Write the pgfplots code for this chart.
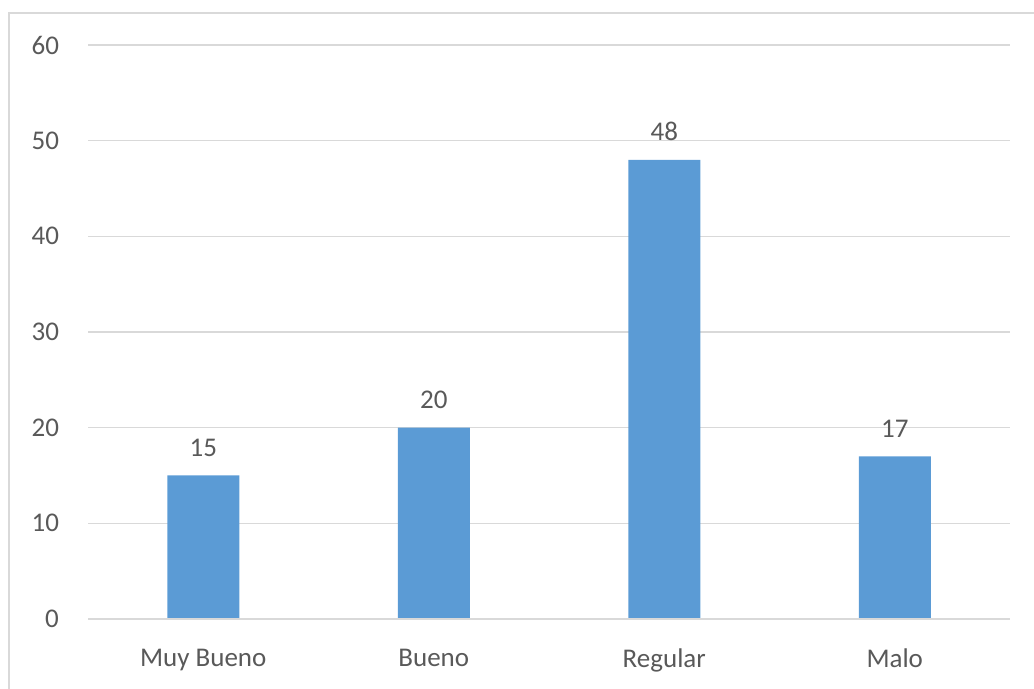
\documentclass[border=0pt]{standalone}
\usepackage{pgfplots}
\pgfplotsset{compat=1.18}
\usepackage{fontspec}
\setmainfont{Carlito}
\definecolor{barblue}{HTML}{5B9BD5}
\definecolor{txtgray}{HTML}{595959}
\definecolor{gridgray}{HTML}{D9D9D9}
\definecolor{framegray}{HTML}{D9D9D9}
\begin{document}
\begin{tikzpicture}[x=0.5pt,y=0.5pt]
\useasboundingbox (0,0) rectangle (1034,689);
\clip (0,0) rectangle (1034,689);
% chart frame
\draw[framegray, line width=0.8pt] (9,676) rectangle (1060,-20);
\begin{axis}[
  at={(44pt,35pt)}, anchor=south west,
  scale only axis,
  width=461pt, height=287pt,
  xmin=-0.5, xmax=3.5,
  ymin=0, ymax=60,
  ytick={0,10,...,60},
  xtick=data,
  xticklabels={Muy Bueno,Bueno,Regular,Malo},
  axis line style={draw=none},
  axis x line*=bottom,
  axis y line*=left,
  major tick length=0pt,
  ymajorgrids,
  grid style={gridgray, line width=0.6pt},
  tick label style={font=\fontsize{13.5}{16}\selectfont, text=txtgray},
  yticklabel style={xshift=-11pt},
  xticklabel style={yshift=-11.5pt},
  /pgf/number format/assume math mode=true,
  ybar, bar width=36pt,
  nodes near coords,
  every node near coord/.append style={font=\fontsize{13.5}{16}\selectfont, text=txtgray, yshift=6pt},
  clip=false,
]
\addplot[fill=barblue, draw=none] coordinates {(0,15) (1,20) (2,48) (3,17)};
\draw[gridgray, line width=0.6pt] (axis cs:-0.5,0) -- (axis cs:3.5,0);
\end{axis}
\end{tikzpicture}
\end{document}
